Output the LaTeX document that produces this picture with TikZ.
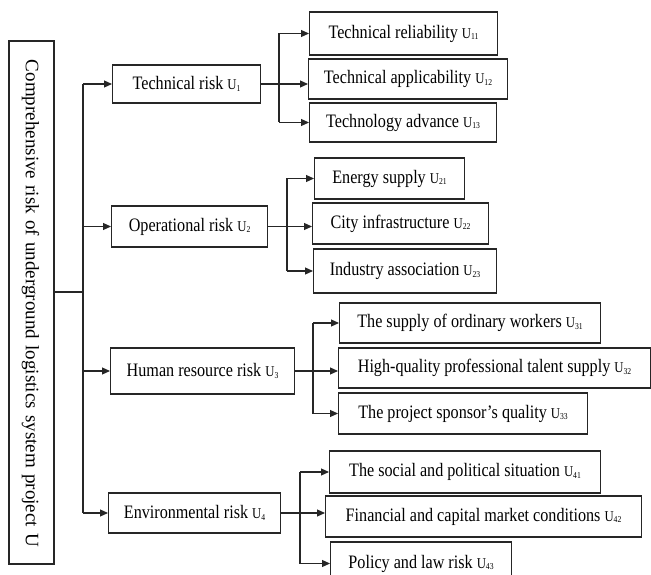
\documentclass[tikz,border=0pt]{standalone}
\usepackage{fontspec}
\setmainfont{Liberation Serif}[FakeStretch=0.85]
\newfontfamily\vfont{Liberation Serif}
\usetikzlibrary{arrows.meta}
\newcommand\Usub[1]{\ {\fontsize{15}{15}\selectfont U}{\fontsize{9}{9}\selectfont\raisebox{-1.5pt}{#1}}}
\tikzset{
  box/.style={draw=black!85, line width=1.1pt, inner sep=0pt, anchor=west,
    font=\fontsize{19}{19}\selectfont, align=center},
  conn/.style={draw=black!85, line width=1.1pt},
  arr/.style={conn, -{Triangle[length=8pt,width=7pt]}},
}
\begin{document}
\begin{tikzpicture}[x=1pt,y=-1pt]
\useasboundingbox (0,0) rectangle (651,575);
% main
\node[draw=black!85, line width=1.1pt, inner sep=0pt, minimum width=45pt, minimum height=523pt] (main) at (31.5,302.5) {};
\node[rotate=-90, inner sep=0pt, font=\vfont\fontsize{19}{19}\selectfont] (maintext) at (30.5,303.5)
  {\makebox[487pt][s]{Comprehensive risk of underground logistics system project U}};
% level 1
\node[box, minimum width=148pt, minimum height=38pt] (t1) at (112,84) {Technical risk\Usub{1}};
\node[box, minimum width=156pt, minimum height=41pt] (t2) at (111,226.5) {Operational risk\Usub{2}};
\node[box, minimum width=184pt, minimum height=46pt] (t3) at (110,371) {Human resource risk\Usub{3}};
\node[box, minimum width=172pt, minimum height=40pt] (t4) at (108,513) {Environmental risk\Usub{4}};
% level 2
\node[box, minimum width=188pt, minimum height=43pt] (t11) at (309,33.5) {Technical reliability\Usub{11}};
\node[box, minimum width=199pt, minimum height=40pt] (t12) at (308,79) {Technical applicability\Usub{12}};
\node[box, minimum width=187pt, minimum height=39pt] (t13) at (309,122.5) {Technology advance\Usub{13}};
\node[box, minimum width=150pt, minimum height=41pt] (t21) at (314,178.5) {Energy supply\Usub{21}};
\node[box, minimum width=176pt, minimum height=41pt] (t22) at (312,223.5) {City infrastructure\Usub{22}};
\node[box, minimum width=183pt, minimum height=44pt] (t23) at (313,271) {Industry association\Usub{23}};
\node[box, minimum width=261pt, minimum height=40pt] (t31) at (339,323) {The supply of ordinary workers\Usub{31}};
\node[box, minimum width=312pt, minimum height=40pt] (t32) at (338,368) {High-quality professional talent supply\Usub{32}};
\node[box, minimum width=249pt, minimum height=41pt] (t33) at (338,413.5) {The project sponsor’s quality\Usub{33}};
\node[box, minimum width=271pt, minimum height=42pt] (t41) at (329,472) {The social and political situation\Usub{41}};
\node[box, minimum width=316pt, minimum height=41pt] (t42) at (325,516.5) {Financial and capital market conditions\Usub{42}};
\node[box, minimum width=181pt, minimum height=43pt] (t43) at (330,563.5) {Policy and law risk\Usub{43}};
% trunk
\coordinate (trunk) at (83,292);
\draw[conn] (main.east |- trunk) -- (trunk);
\draw[conn] (trunk |- t1) -- (trunk |- t4);
\foreach \n in {t1,t2,t3,t4} \draw[arr] (trunk |- \n) -- (\n.west);
% brackets
\coordinate (b1) at (279,0);
\coordinate (b2) at (287,0);
\coordinate (b3) at (313,0);
\coordinate (b4) at (300,0);
\foreach \p/\b in {t1/b1,t2/b2,t3/b3,t4/b4}{
  \draw[conn] (\b |- \p1) -- (\b |- \p3);
  \draw[arr] (\b |- \p1) -- (\p1.west);
  \draw[arr] (\b |- \p3) -- (\p3.west);
  \draw[arr] (\p.east) -- (\p2.west |- \p.east);
}
\end{tikzpicture}
\end{document}
